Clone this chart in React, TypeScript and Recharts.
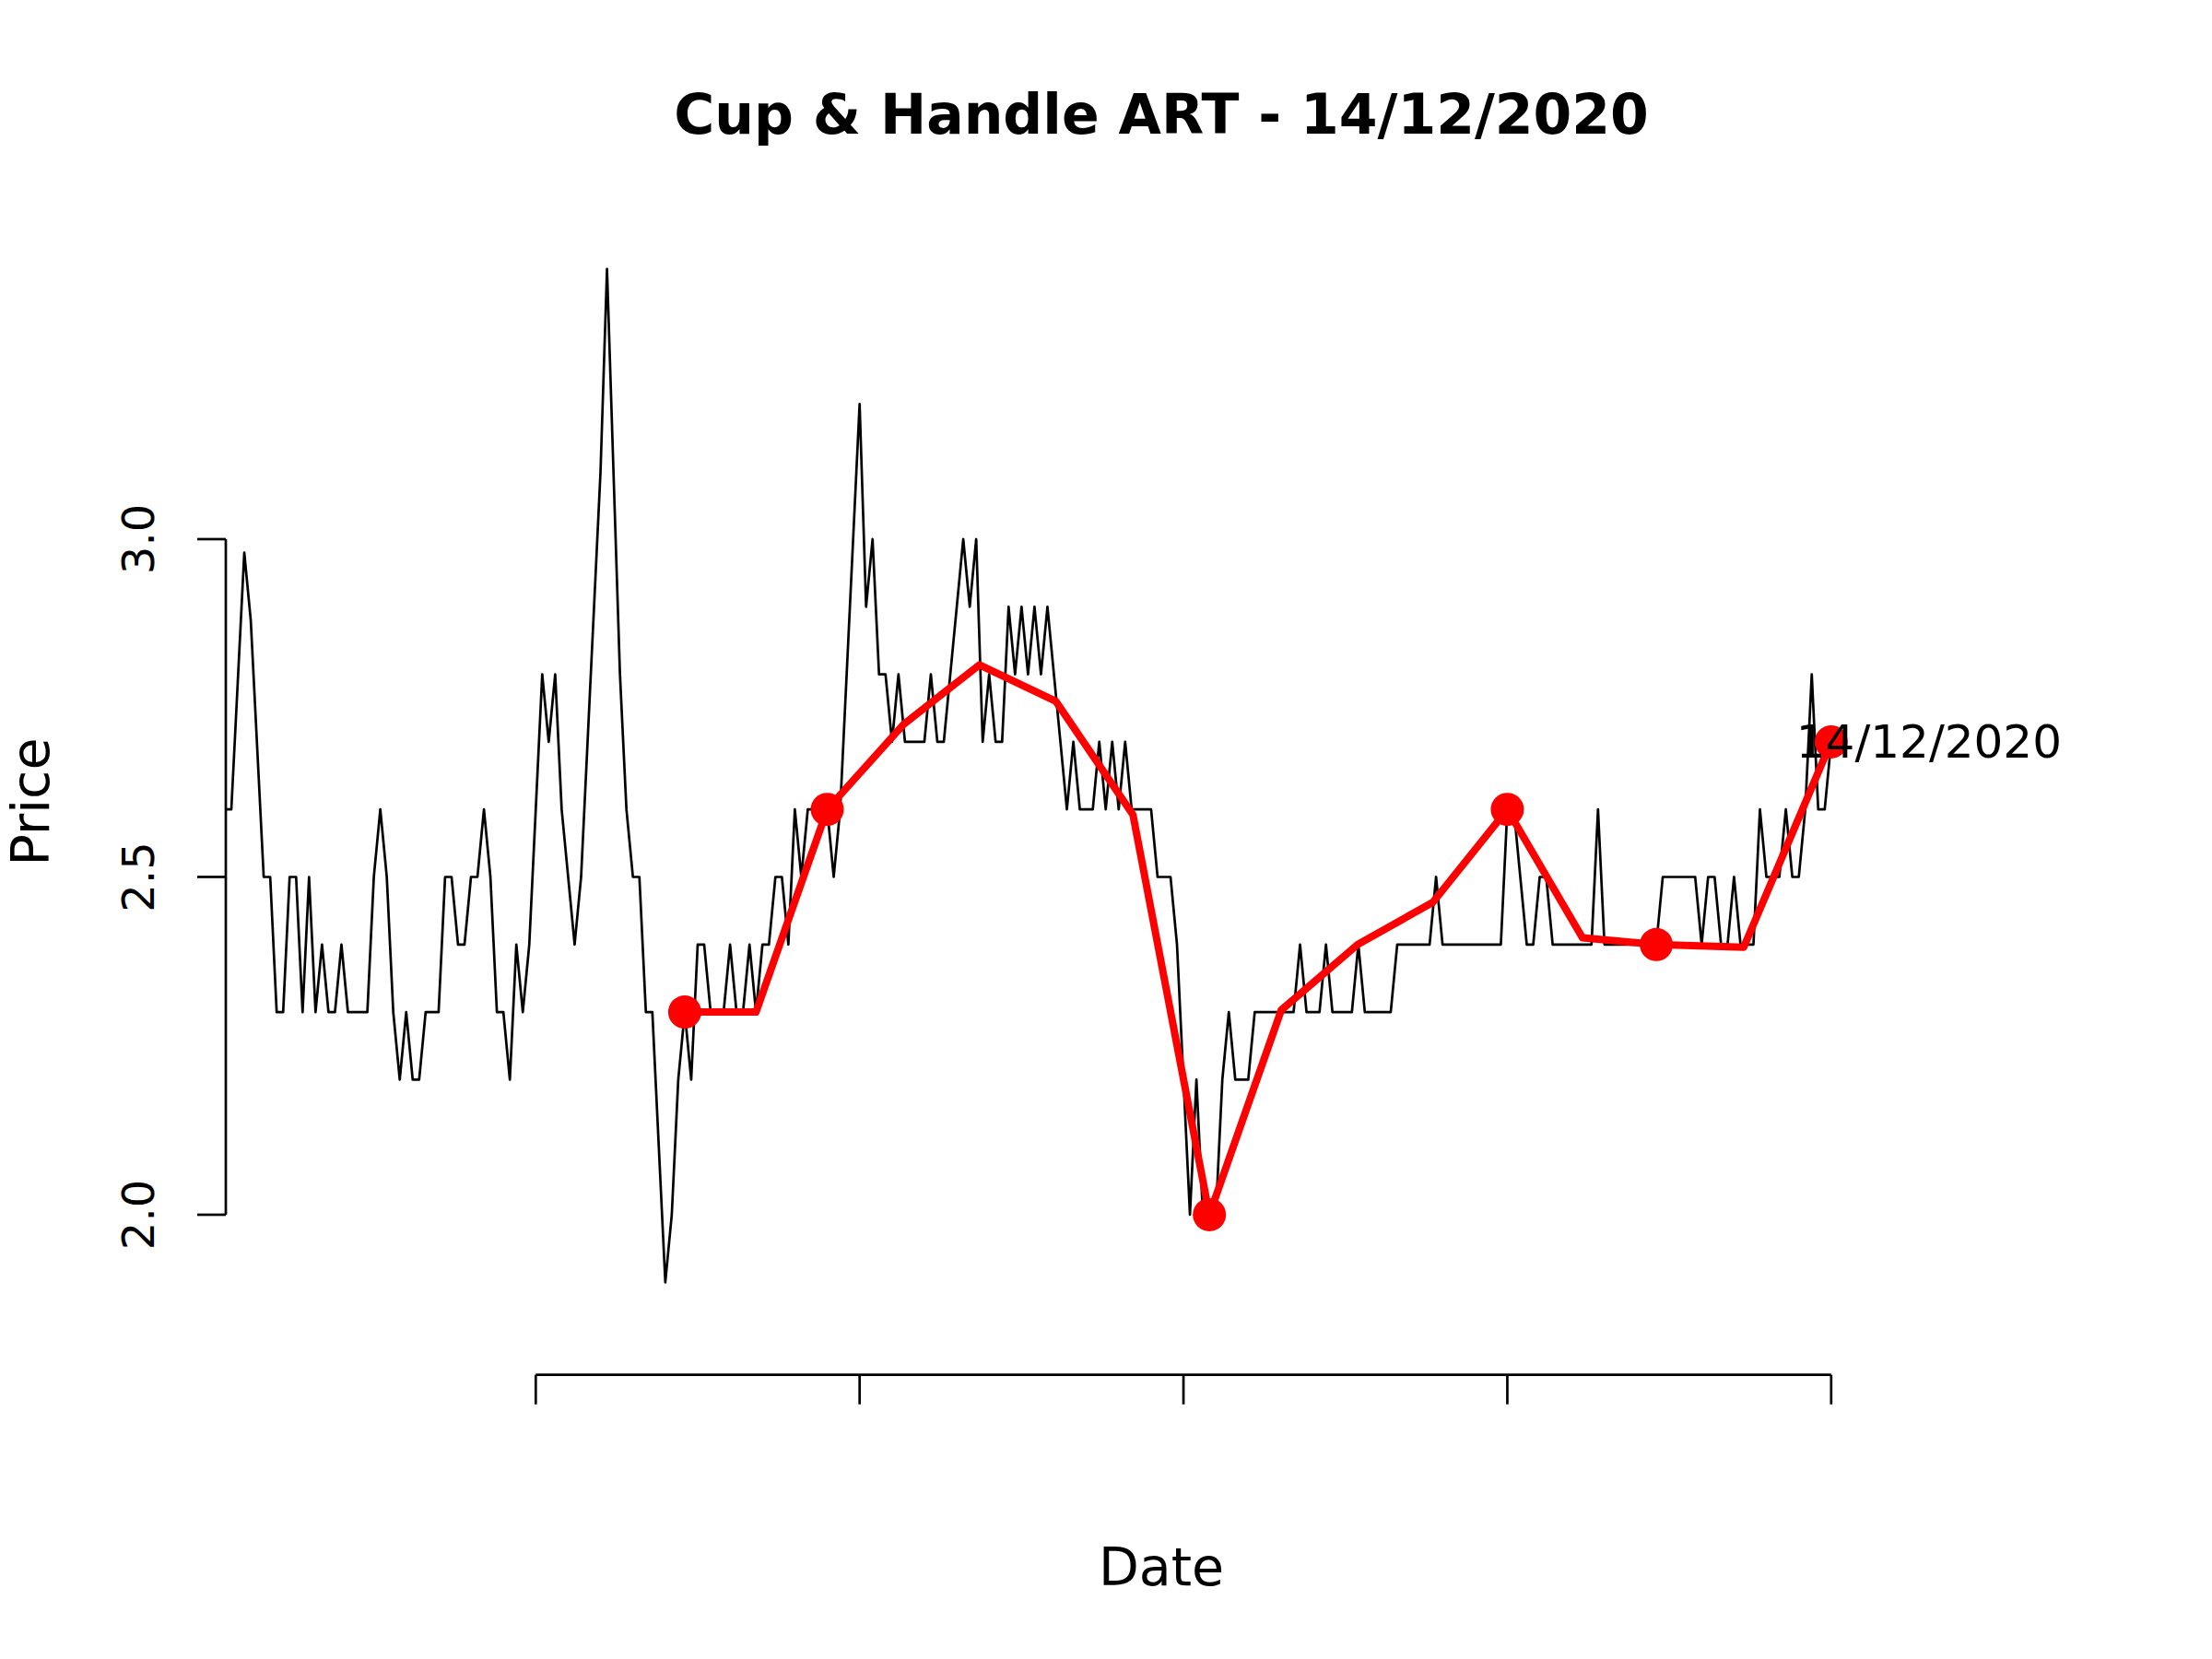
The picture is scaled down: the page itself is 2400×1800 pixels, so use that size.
import React from 'react';
import { LineChart, Line, XAxis, YAxis, ReferenceLine, LabelList } from 'recharts';

// Daily closing prices (index -1 .. 247); first point sits just left of the plot edge
const priceStartIndex = -1;
const priceValues = [
  2.6, 2.6, 2.79, 2.98, 2.88, 2.69, 2.5, 2.5, 2.3, 2.3,
  2.5, 2.5, 2.3, 2.5, 2.3, 2.4, 2.3, 2.3, 2.4, 2.3,
  2.3, 2.3, 2.3, 2.5, 2.6, 2.5, 2.3, 2.2, 2.3, 2.2,
  2.2, 2.3, 2.3, 2.3, 2.5, 2.5, 2.4, 2.4, 2.5, 2.5,
  2.6, 2.5, 2.3, 2.3, 2.2, 2.4, 2.3, 2.4, 2.6, 2.8,
  2.7, 2.8, 2.6, 2.5, 2.4, 2.5, 2.7, 2.9, 3.1, 3.4,
  3.1, 2.8, 2.6, 2.5, 2.5, 2.3, 2.3, 2.1, 1.9, 2.0,
  2.2, 2.3, 2.2, 2.4, 2.4, 2.3, 2.3, 2.3, 2.4, 2.3,
  2.3, 2.4, 2.3, 2.4, 2.4, 2.5, 2.5, 2.4, 2.6, 2.5,
  2.6, 2.6, 2.6, 2.6, 2.5, 2.6, 2.8, 3.0, 3.2, 2.9,
  3.0, 2.8, 2.8, 2.7, 2.8, 2.7, 2.7, 2.7, 2.7, 2.8,
  2.7, 2.7, 2.8, 2.9, 3.0, 2.9, 3.0, 2.7, 2.8, 2.7,
  2.7, 2.9, 2.8, 2.9, 2.8, 2.9, 2.8, 2.9, 2.8, 2.7,
  2.6, 2.7, 2.6, 2.6, 2.6, 2.7, 2.6, 2.7, 2.6, 2.7,
  2.6, 2.6, 2.6, 2.6, 2.5, 2.5, 2.5, 2.4, 2.2, 2.0,
  2.2, 2.0, 2.0, 2.0, 2.2, 2.3, 2.2, 2.2, 2.2, 2.3,
  2.3, 2.3, 2.3, 2.3, 2.3, 2.3, 2.4, 2.3, 2.3, 2.3,
  2.4, 2.3, 2.3, 2.3, 2.3, 2.4, 2.3, 2.3, 2.3, 2.3,
  2.3, 2.4, 2.4, 2.4, 2.4, 2.4, 2.4, 2.5, 2.4, 2.4,
  2.4, 2.4, 2.4, 2.4, 2.4, 2.4, 2.4, 2.4, 2.6, 2.6,
  2.5, 2.4, 2.4, 2.5, 2.5, 2.4, 2.4, 2.4, 2.4, 2.4,
  2.4, 2.4, 2.6, 2.4, 2.4, 2.4, 2.4, 2.4, 2.4, 2.4,
  2.4, 2.4, 2.5, 2.5, 2.5, 2.5, 2.5, 2.5, 2.4, 2.5,
  2.5, 2.4, 2.4, 2.5, 2.4, 2.4, 2.4, 2.6, 2.5, 2.5,
  2.5, 2.6, 2.5, 2.5, 2.6, 2.8, 2.6, 2.6, 2.7,
];

// Cup & handle pattern line
const patternIndex = [70, 81, 92, 103.8, 115.5, 127.3, 139.2, 151, 162.1, 173.9, 185.5, 197, 208.6, 220, 233.5, 247];
const patternValues = [2.3, 2.3, 2.6, 2.726, 2.814, 2.76, 2.592, 2.0, 2.303, 2.4, 2.4625, 2.6, 2.41, 2.4, 2.396, 2.7];
const patternMarked = [true, false, true, false, false, false, false, true, false, false, false, true, false, true, false, true];
const patternLabels = ['', '', '', '', '', '', '', '', '', '', '', '', '', '', '', '14/12/2020'];

const yTicks = [2.0, 2.5, 3.0];
const xTicks = [47, 97, 147, 197, 247];
const titleText = 'Cup & Handle ART - 14/12/2020';
const xLabelText = 'Date';
const yLabelText = 'Price';

const X_MIN = -0.853;
const X_MAX = 290;
const Y_MIN = 1.763;
const Y_MAX = 3.46;

const priceData = priceValues.map((v, i) => ({ x: i + priceStartIndex, y: v }));
const patternData = patternIndex.map((x, i) => ({
  x,
  y: patternValues[i],
  mark: patternMarked[i],
  label: patternLabels[i] || undefined,
}));

const FONT = '"DejaVu Sans", sans-serif';

const YTick = (props: any) => {
  const { x, y, payload } = props;
  const tx = x - 47;
  return (
    <text
      x={tx}
      y={y}
      transform={`rotate(-90, ${tx}, ${y})`}
      textAnchor="middle"
      fontFamily={FONT}
      fontSize={48}
      fill="#000"
    >
      {Number(payload.value).toFixed(1)}
    </text>
  );
};

const EmptyTick = () => <g />;

const renderDot = (props: any) => {
  const { cx, cy, payload, index } = props;
  if (!payload || !payload.mark) return <g key={`pd-${index}`} />;
  return <circle key={`pd-${index}`} cx={cx} cy={cy} r={18} fill="#ff0000" stroke="none" />;
};

const renderLabel = (props: any) => {
  const { x, y, value, index } = props;
  if (!value) return <g key={`pl-${index}`} />;
  return (
    <text
      key={`pl-${index}`}
      x={x - 38}
      y={y + 17}
      textAnchor="start"
      fontFamily={FONT}
      fontSize={50}
      fill="#000"
    >
      {value}
    </text>
  );
};

export default function App() {
  return (
    <div
      style={{
        position: 'absolute',
        left: 0,
        top: 0,
        width: 2400,
        height: 1800,
        background: '#ffffff',
        fontFamily: FONT,
      }}
    >
      <LineChart width={2400} height={1800} margin={{ top: 247.8, right: 111, bottom: 0, left: 0 }}>
        <XAxis
          type="number"
          dataKey="x"
          domain={[X_MIN, X_MAX]}
          allowDataOverflow
          ticks={xTicks}
          interval={0}
          tick={<EmptyTick />}
          tickLine={{ stroke: '#000', strokeWidth: 2.7 }}
          tickSize={32}
          axisLine={false}
          height={308.3}
        />
        <YAxis
          type="number"
          domain={[Y_MIN, Y_MAX]}
          allowDataOverflow
          ticks={yTicks}
          interval={0}
          tick={<YTick />}
          tickLine={{ stroke: '#000', strokeWidth: 2.7 }}
          tickSize={31}
          tickMargin={0}
          axisLine={false}
          width={245}
        />
        <ReferenceLine
          segment={[{ x: X_MIN, y: yTicks[0] }, { x: X_MIN, y: yTicks[yTicks.length - 1] }]}
          stroke="#000"
          strokeWidth={2.7}
          ifOverflow="visible"
        />
        <ReferenceLine
          segment={[{ x: xTicks[0], y: Y_MIN }, { x: xTicks[xTicks.length - 1], y: Y_MIN }]}
          stroke="#000"
          strokeWidth={2.7}
          ifOverflow="visible"
        />
        <Line
          data={priceData}
          dataKey="y"
          type="linear"
          stroke="#000"
          strokeWidth={2.7}
          strokeLinejoin="round"
          dot={false}
          activeDot={false}
          isAnimationActive={false}
        />
        <Line
          data={patternData}
          dataKey="y"
          type="linear"
          stroke="#ff0000"
          strokeWidth={8}
          strokeLinejoin="round"
          dot={renderDot}
          activeDot={false}
          isAnimationActive={false}
        >
          <LabelList dataKey="label" content={renderLabel} />
        </Line>
      </LineChart>
      <svg
        width={2400}
        height={1800}
        style={{ position: 'absolute', left: 0, top: 0, pointerEvents: 'none' }}
      >
        <text x={1260} y={144.5} textAnchor="middle" fontFamily={FONT} fontWeight="bold" fontSize={60} fill="#000">
          {titleText}
        </text>
        <text x={1260} y={1720} textAnchor="middle" fontFamily={FONT} fontSize={57} fill="#000">
          {xLabelText}
        </text>
        <text
          x={53}
          y={870}
          transform="rotate(-90, 53, 870)"
          textAnchor="middle"
          fontFamily={FONT}
          fontSize={57}
          fill="#000"
        >
          {yLabelText}
        </text>
      </svg>
    </div>
  );
}
